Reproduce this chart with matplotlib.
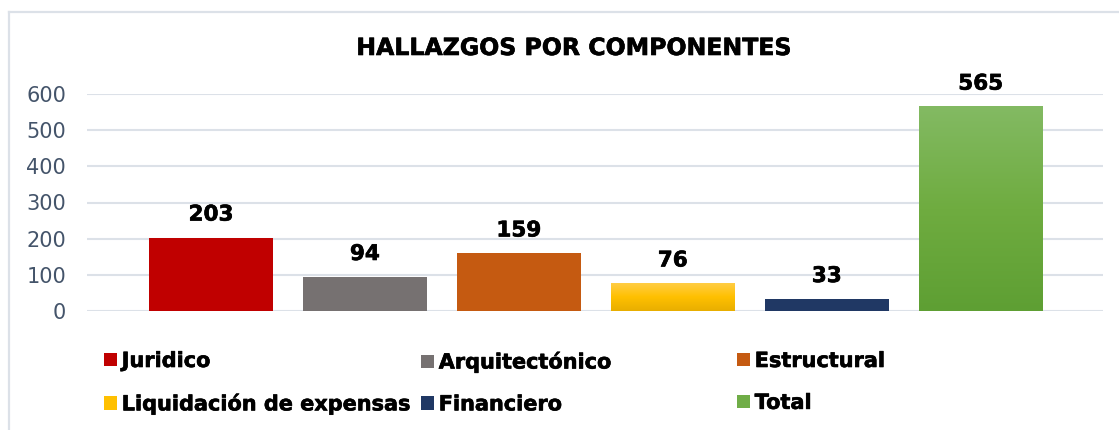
import numpy as np
import matplotlib.pyplot as plt
import matplotlib.patheffects as pe
from matplotlib.patches import Patch
from matplotlib.lines import Line2D
from matplotlib.colors import LinearSegmentedColormap

categories = ['Juridico', 'Arquitectónico', 'Estructural',
              'Liquidación de expensas', 'Financiero', 'Total']
values = [203, 94, 159, 76, 33, 565]
colors = ['#C00000', '#767171', '#C55A11', '#FFC000', '#203864', '#70AD47']
yticks = [0, 100, 200, 300, 400, 500, 600]

W, H = 1119, 430
fig = plt.figure(figsize=(W / 100, H / 100), dpi=100)
heavy = [pe.withStroke(linewidth=0.45, foreground='black')]

# outer frame (only top and left edges are visible in the crop)
fig.add_artist(Line2D([8.5 / W, 8.5 / W], [0, 1 - 11.5 / H], transform=fig.transFigure,
                      color='#DCE1E8', lw=1.6))
fig.add_artist(Line2D([8.5 / W, 1.01], [1 - 11.5 / H, 1 - 11.5 / H], transform=fig.transFigure,
                      color='#DCE1E8', lw=1.6))

ax = fig.add_axes([87 / W, 1 - 311 / H, (1103 - 87) / W, (311 - 94) / H])
x = np.arange(len(categories))
width = 0.805
bars = ax.bar(x, values, width=width, color=colors, zorder=2)

# gradients on yellow and green bars
grads = {3: ['#FFCD45', '#FFC000', '#E8AE00'], 5: ['#83BA63', '#6FAC40', '#5E9F33']}
for i, cl in grads.items():
    cmap = LinearSegmentedColormap.from_list('g%d' % i, cl[::-1])
    grad = np.linspace(0, 1, 256).reshape(-1, 1)
    ax.imshow(grad, cmap=cmap, origin='lower', aspect='auto', zorder=3,
              extent=(x[i] - width / 2, x[i] + width / 2, 0, values[i]))

for xi, v in zip(x, values):
    ax.text(xi, v + 36, str(v), ha='center', va='bottom', fontsize=15.5,
            fontweight='bold', color='black', path_effects=heavy)

ax.set_xlim(-0.805, 5.795)
ax.set_ylim(0, 600)
ax.set_yticks(yticks)
ax.set_xticks([])
ax.tick_params(axis='y', length=0, labelsize=15, labelcolor='#44546A', pad=15)
ax.yaxis.grid(True, color='#DCE1E8', lw=1.5, zorder=0)
ax.set_axisbelow(True)
for s in ax.spines.values():
    s.set_visible(False)

fig.text(574 / W, 1 - 48 / H, 'HALLAZGOS POR COMPONENTES', ha='center', va='center',
         fontsize=17, fontweight='bold', color='black', path_effects=heavy)

# legend: three columns placed by hand
legcols = [[0, 3], [1, 4], [2, 5]]
legx = [104, 421, 737]
for col, lx in zip(legcols, legx):
    handles = [Patch(facecolor=colors[i], edgecolor='none') for i in col]
    labels = [categories[i] for i in col]
    leg = fig.legend(handles, labels, loc='upper left', bbox_to_anchor=(lx / W, 1 - 351 / H),
                     frameon=False, handlelength=0.6, handleheight=0.6, handletextpad=0.25,
                     labelspacing=1.05, borderpad=0, borderaxespad=0,
                     prop={'size': 15, 'weight': 'bold'})
    for t in leg.get_texts():
        t.set_path_effects(heavy)

fig.savefig('out.png', dpi=100, facecolor='white')
